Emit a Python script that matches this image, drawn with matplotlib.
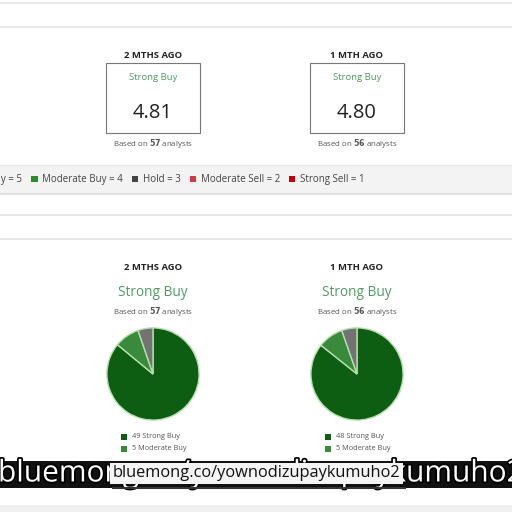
import matplotlib
matplotlib.use("Agg")
import matplotlib.pyplot as plt
import matplotlib.patches as patches
import matplotlib.patheffects as pe

plt.rcParams['font.family'] = ['Open Sans', 'DejaVu Sans']

# data
periods = ['2 MTHS AGO', '1 MTH AGO']
consensus = ['Strong Buy', 'Strong Buy']
scores = [4.81, 4.80]
n_analysts = [57, 56]
strong_buy = [49, 48]
moderate_buy = [5, 5]
hold = [3, 3]
pie_labels = ['Strong Buy', 'Moderate Buy', 'Hold']
pie_colors = ['#0d5e12', '#3a8a3c', '#737373']
scale_labels = ['Strong Buy = 5', 'Moderate Buy = 4', 'Hold = 3', 'Moderate Sell = 2', 'Strong Sell = 1']
scale_colors = ['#0d5e12', '#2e8b2e', '#444444', '#d23b3b', '#c00000']
watermark = 'bluemong.co/yownodizupaykumuho2'

W = 512
fig = plt.figure(figsize=(5.12, 5.12), dpi=100)
fig.patch.set_facecolor('white')
ax = fig.add_axes([0, 0, 1, 1])
ax.set_xlim(0, W)
ax.set_ylim(W, 0)
ax.axis('off')

green_txt = '#4f9a62'
line_col = '#e3e3e3'

# section lines
for y in [3, 27, 215, 239]:
    ax.plot([0, W], [y, y], color=line_col, lw=1.2)

# legend band
ax.add_patch(patches.Rectangle((0, 165), W, 29, facecolor='#f3f3f3', edgecolor='none'))
ax.plot([0, W], [165, 165], color='#e6e6e6', lw=1)
ax.plot([0, W], [194, 194], color='#dcdcdc', lw=1.2)
ax.text(22, 179.5, scale_labels[0], fontsize=7, color='#444444', ha='right', va='center', clip_on=True)
x = 31
for lab, col in zip(scale_labels[1:], scale_colors[1:]):
    ax.add_patch(patches.Rectangle((x, 175.5), 6.5, 6.5, facecolor=col, edgecolor='none'))
    t = ax.text(x + 11, 179.5, lab, fontsize=7, color='#444444', ha='left', va='center')
    fig.canvas.draw()
    bb = t.get_window_extent().transformed(ax.transData.inverted())
    x = bb.x1 + 9

centers = [153, 357]
for i, cx in enumerate(centers):
    # top box cards
    ax.text(cx, 55, periods[i], fontsize=6.8, fontweight='bold', color='#222222', ha='center', va='center')
    ax.add_patch(patches.Rectangle((cx - 47, 63), 94, 70, facecolor='white', edgecolor='#777777', lw=0.8))
    ax.text(cx, 78, consensus[i], fontsize=6.8, color=green_txt, ha='center', va='center')
    ax.text(cx, 113, f'{scores[i]:.2f}', fontsize=14.5, color='#222222', ha='center', va='center')
    ax.text(cx, 143, f'Based on $\\bf{{{n_analysts[i]}}}$ analysts', fontsize=5.7, color='#555555',
            ha='center', va='center')

    # pie section
    ax.text(cx, 267, periods[i], fontsize=6.8, fontweight='bold', color='#222222', ha='center', va='center')
    ax.text(cx, 292, consensus[i], fontsize=9.8, color=green_txt, ha='center', va='center')
    ax.text(cx, 311, f'Based on $\\bf{{{n_analysts[i]}}}$ analysts', fontsize=5.7, color='#555555',
            ha='center', va='center')

    r = 47
    pax = fig.add_axes([(cx - r) / W, (W - 374 - r) / W, 2 * r / W, 2 * r / W])
    pax.pie([strong_buy[i], moderate_buy[i], hold[i]], colors=pie_colors, startangle=90,
            counterclock=False, radius=1,
            wedgeprops=dict(edgecolor='#b5e0ae', linewidth=1.0))
    pax.set_xlim(-1.02, 1.02)
    pax.set_ylim(-1.02, 1.02)
    pax.set_aspect('equal')

    counts = [strong_buy[i], moderate_buy[i]]
    for j, (n, lab) in enumerate(zip(counts, pie_labels[:2])):
        y = 437 + j * 12
        ax.add_patch(patches.Rectangle((cx - 32, y - 3), 6, 6, facecolor=pie_colors[j], edgecolor='none'))
        ax.text(cx - 21, y, f'{n} {lab}', fontsize=5.3, color='#555555', ha='left', va='center')

# watermark overlay
ax.add_patch(patches.Rectangle((0, 461), W, 27, facecolor='#111111', edgecolor='none', zorder=5))
ax.text(-2, 474, watermark, fontsize=21.5, color='white', ha='left', va='center', zorder=6,
        path_effects=[pe.withStroke(linewidth=2.5, foreground='black')])
ax.add_patch(patches.Rectangle((110, 463), 293, 21, facecolor='#f4f4f4', edgecolor='none', zorder=7))
ax.text(256, 473, watermark, fontsize=11.8, color='#111111', ha='center', va='center', zorder=8)
ax.plot([113, 405], [488, 488], color='#333333', lw=1.5, zorder=8)

# bottom band
ax.add_patch(patches.Rectangle((0, 505), W, 7, facecolor='#f0f0f0', edgecolor='none'))

fig.savefig('out.png', dpi=100, facecolor='white')
